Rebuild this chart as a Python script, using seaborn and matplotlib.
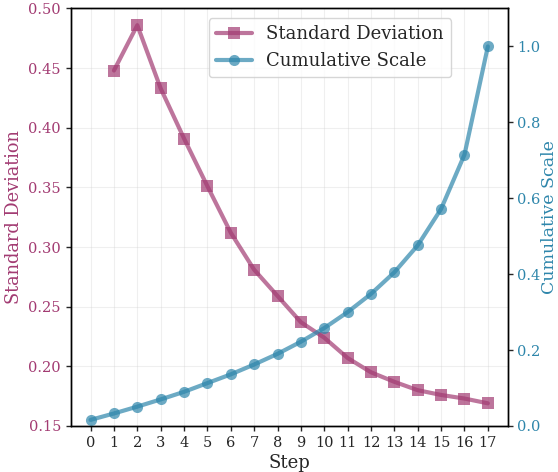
import matplotlib
matplotlib.use("Agg")
import matplotlib.pyplot as plt
import seaborn as sns
import numpy as np

steps_std = [1, 2, 3, 4, 5, 6, 7, 8, 9, 10, 11, 12, 13, 14, 15, 16, 17]
std_values = [0.448, 0.486, 0.433, 0.391, 0.351, 0.312, 0.281, 0.259, 0.237,
              0.224, 0.207, 0.195, 0.187, 0.180, 0.176, 0.173, 0.169]
steps_cum = list(range(18))
cum_values = [0.016, 0.033, 0.051, 0.070, 0.090, 0.113, 0.136, 0.162, 0.190,
              0.222, 0.258, 0.300, 0.348, 0.405, 0.476, 0.572, 0.715, 1.000]

c_std = "#A23B72"
c_cum = "#2E86AB"

sns.set_style("ticks")
plt.rcParams["font.family"] = ["DejaVu Serif"]

fig = plt.figure(figsize=(5.58, 4.72), dpi=100)
ax = fig.add_axes([0.1267, 0.0975, 0.7832, 0.8845])
ax2 = ax.twinx()

sns.lineplot(x=steps_std, y=std_values, ax=ax, color=c_std, marker="s",
             linewidth=3, markersize=8, alpha=0.7, markeredgecolor=c_std,
             markeredgewidth=0, label="Standard Deviation", legend=False)
sns.lineplot(x=steps_cum, y=cum_values, ax=ax2, color=c_cum, marker="o",
             linewidth=3, markersize=8, alpha=0.7, markeredgecolor=c_cum,
             markeredgewidth=0, label="Cumulative Scale", legend=False)

ax.set_ylim(0.15, 0.50)
ax2.set_ylim(0, 1.1)
ax.set_xticks(steps_cum)
ax.set_xlabel("Step", fontsize=13, labelpad=3)
ax.set_ylabel("Standard Deviation", fontsize=12.8, color=c_std, labelpad=4)
ax2.set_ylabel("Cumulative Scale", fontsize=12.5, color=c_cum, labelpad=0)
for a in (ax, ax2):
    a.tick_params(length=3.5, width=1.0, labelsize=10.5, pad=3.5)
    for s in a.spines.values():
        s.set_color("black")
        s.set_linewidth(1.0)
ax.tick_params(axis="y", labelcolor=c_std)
ax2.tick_params(axis="y", labelcolor=c_cum)
ax2.set_yticks([0.0, 0.2, 0.4, 0.6, 0.8, 1.0])
ax.grid(True, alpha=0.3)

h1, l1 = ax.get_legend_handles_labels()
h2, l2 = ax2.get_legend_handles_labels()
ax2.legend(h1 + h2, l1 + l2, loc="upper left", bbox_to_anchor=(0.295, 0.999),
           fontsize=13)

fig.savefig("out.png", dpi=100)
